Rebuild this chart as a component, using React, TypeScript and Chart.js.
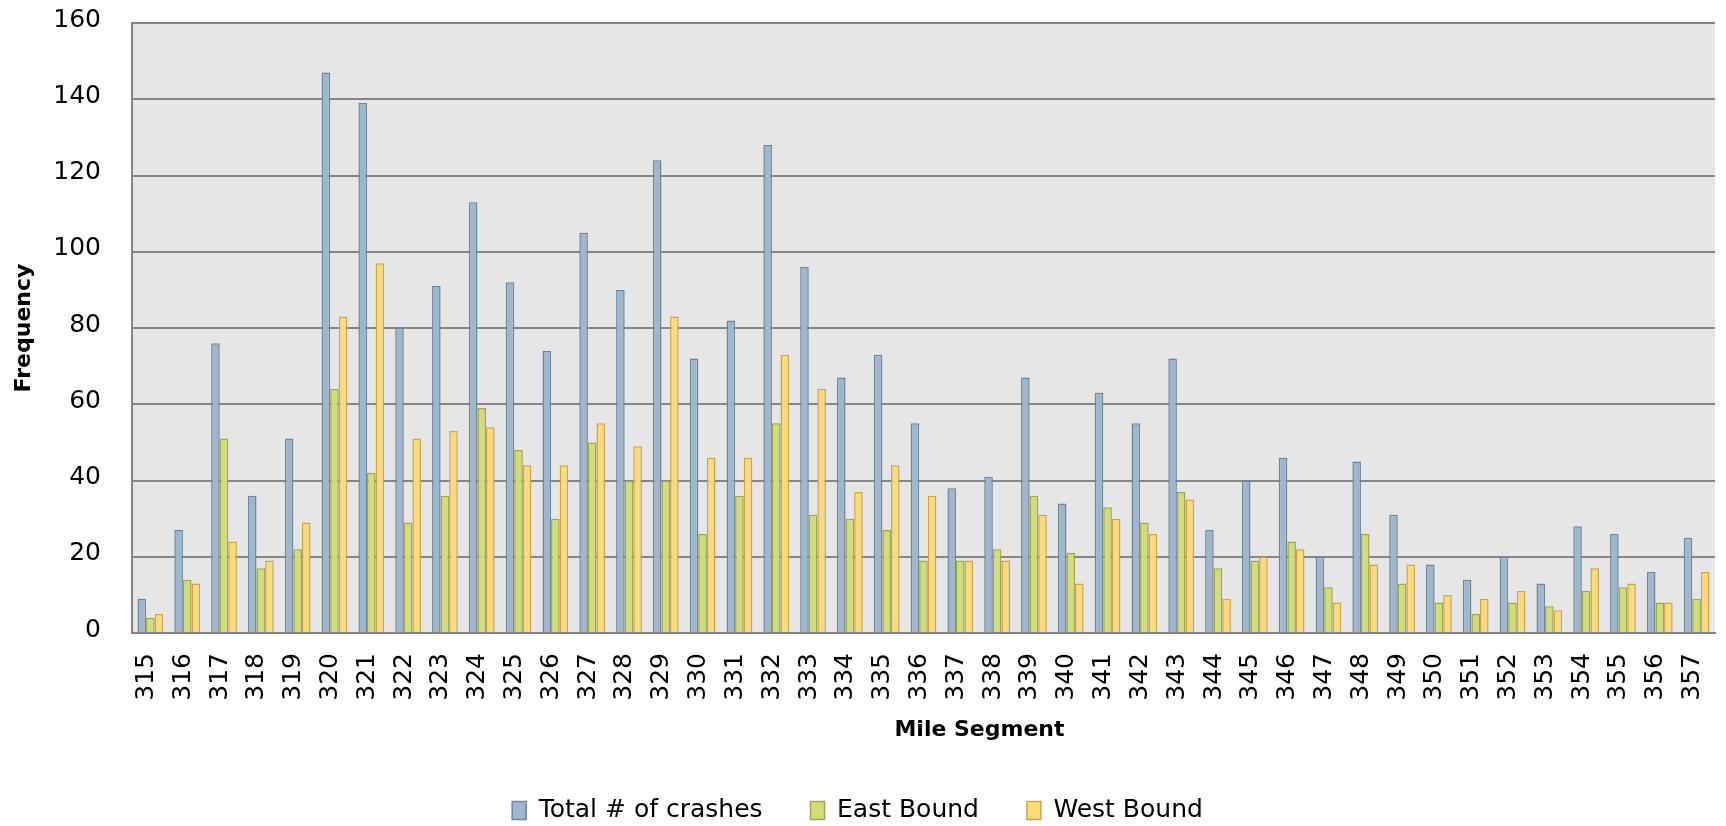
import React, { useEffect, useRef } from "react";
import { Chart, registerables } from "chart.js";

Chart.register(...registerables);

const CATEGORIES = [
  "315", "316", "317", "318", "319", "320", "321", "322", "323", "324", "325",
  "326", "327", "328", "329", "330", "331", "332", "333", "334", "335", "336",
  "337", "338", "339", "340", "341", "342", "343", "344", "345", "346", "347",
  "348", "349", "350", "351", "352", "353", "354", "355", "356", "357",
];

const TOTAL = [
  9, 27, 76, 36, 51, 147, 139, 80, 91, 113, 92,
  74, 105, 90, 124, 72, 82, 128, 96, 67, 73, 55,
  38, 41, 67, 34, 63, 55, 72, 27, 40, 46, 20,
  45, 31, 18, 14, 20, 13, 28, 26, 16, 25,
];

const EAST = [
  4, 14, 51, 17, 22, 64, 42, 29, 36, 59, 48,
  30, 50, 40, 40, 26, 36, 55, 31, 30, 27, 19,
  19, 22, 36, 21, 33, 29, 37, 17, 19, 24, 12,
  26, 13, 8, 5, 8, 7, 11, 12, 8, 9,
];

const WEST = [
  5, 13, 24, 19, 29, 83, 97, 51, 53, 54, 44,
  44, 55, 49, 83, 46, 46, 73, 64, 37, 44, 36,
  19, 19, 31, 13, 30, 26, 35, 9, 20, 22, 8,
  18, 18, 10, 9, 11, 6, 17, 13, 8, 16,
];

const SERIES_NAMES = ["Total # of crashes", "East Bound", "West Bound"];
const Y_TITLE = "Frequency";
const X_TITLE = "Mile Segment";
const Y_MIN = 0;
const Y_MAX = 160;
const Y_STEP = 20;

const FONT = '"DejaVu Sans", "Open Sans", sans-serif';
const W = 1726;
const H = 826;

const plotBg = {
  id: "plotBg",
  beforeDraw(chart: any) {
    const { ctx, chartArea } = chart;
    if (!chartArea) return;
    ctx.save();
    ctx.fillStyle = "#e6e6e6";
    ctx.fillRect(chartArea.left, chartArea.top, chartArea.right - chartArea.left, chartArea.bottom - chartArea.top);
    ctx.restore();
  },
};

const xTitle = {
  id: "xTitle",
  afterDraw(chart: any) {
    const { ctx, chartArea } = chart;
    ctx.save();
    ctx.font = `bold 22px ${FONT}`;
    ctx.fillStyle = "#000";
    ctx.textAlign = "center";
    ctx.textBaseline = "middle";
    ctx.fillText(X_TITLE, (chartArea.left + chartArea.right) / 2 + 56, chartArea.bottom + 97);
    ctx.restore();
  },
};

export default function App() {
  const ref = useRef<HTMLCanvasElement | null>(null);

  useEffect(() => {
    if (!ref.current) return;
    const chart = new Chart(ref.current, {
      type: "bar",
      data: {
        labels: CATEGORIES,
        datasets: [
          {
            label: SERIES_NAMES[0],
            data: TOTAL,
            backgroundColor: "#a0b6cd",
            borderColor: "#6f859a",
            borderWidth: 1.5,
          },
          {
            label: SERIES_NAMES[1],
            data: EAST,
            backgroundColor: "#d3dc7a",
            borderColor: "#a0a650",
            borderWidth: 1.5,
          },
          {
            label: SERIES_NAMES[2],
            data: WEST,
            backgroundColor: "#fcd97c",
            borderColor: "#c8a64f",
            borderWidth: 1.5,
          },
        ],
      },
      options: {
        responsive: false,
        animation: false,
        devicePixelRatio: 1,
        datasets: {
          bar: { categoryPercentage: 0.7, barPercentage: 1.0 },
        },
        layout: { padding: { top: 23, right: 11, left: 0, bottom: -7 } },
        plugins: {
          tooltip: { enabled: false },
          legend: {
            position: "bottom",
            labels: {
              color: "#000",
              font: { family: FONT, size: 25 },
              boxWidth: 14,
              boxHeight: 18,
              padding: 48,
            },
          },
        },
        scales: {
          x: {
            grid: { display: false, drawTicks: false },
            border: { display: true, color: "#858585", width: 2 },
            ticks: {
              color: "#000",
              font: { family: FONT, size: 25 },
              maxRotation: 90,
              minRotation: 90,
              autoSkip: false,
              padding: 20,
              labelOffset: -4,
            },
            afterFit(scale: any) {
              const lg = scale.chart.legend;
              const lh = lg && lg.height ? lg.height : 60;
              scale.height = H + 7 - lh - 633;
              scale.paddingLeft = 0;
              scale.paddingRight = 0;
            },
          },
          y: {
            min: Y_MIN,
            max: Y_MAX,
            grid: { color: "#858585", lineWidth: 2, drawTicks: false },
            border: { display: true, color: "#858585", width: 2 },
            ticks: {
              stepSize: Y_STEP,
              color: "#000",
              font: { family: FONT, size: 25 },
              padding: 31,
              labelOffset: -3,
            },
            title: {
              display: true,
              text: Y_TITLE,
              color: "#000",
              font: { family: FONT, size: 22, weight: "bold" },
              padding: { top: 11, bottom: 0 },
            },
            afterFit(scale: any) {
              scale.width = 132;
              scale.paddingTop = 0;
              scale.paddingBottom = 0;
            },
          },
        },
      },
      plugins: [plotBg, xTitle],
    });
    return () => chart.destroy();
  }, []);

  return (
    <div style={{ position: "absolute", left: 0, top: 0, width: W, height: H, background: "#fff" }}>
      <canvas ref={ref} width={W} height={H} style={{ display: "block", width: W, height: H }} />
    </div>
  );
}
